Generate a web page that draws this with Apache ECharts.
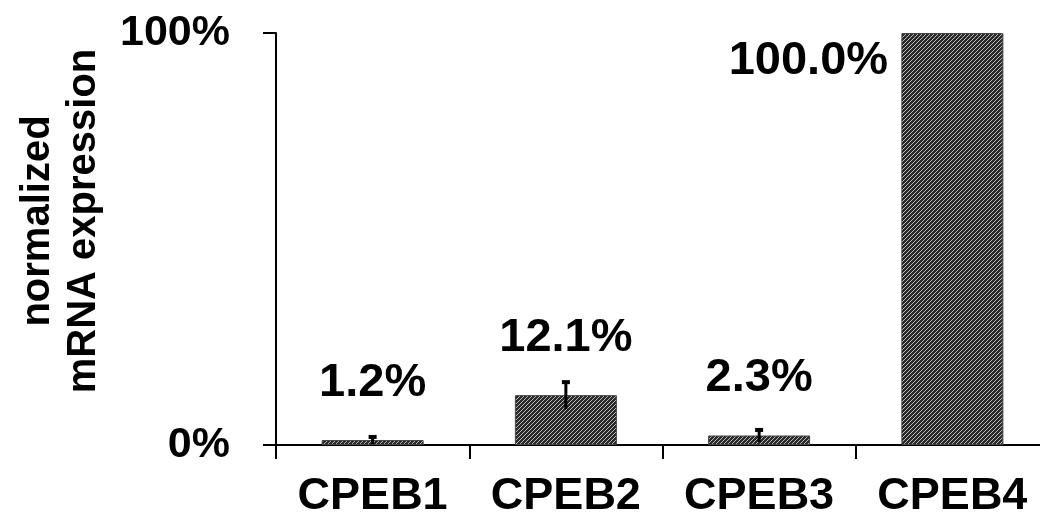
<!DOCTYPE html>
<html>
<head>
<meta charset="utf-8">
<script src="https://cdn.jsdelivr.net/npm/echarts@6/dist/echarts.min.js"></script>
<style>html,body{margin:0;padding:0;background:#fff}#c{width:1040px;height:522px}</style>
</head>
<body>
<div id="c"></div>
<script>
const categories = ["CPEB1", "CPEB2", "CPEB3", "CPEB4"];
const values = [1.2, 12.1, 2.3, 100.0];
const errors = [1.0, 3.4, 1.6, 0];
const yTicks = [0, 100];
const yTitle = "normalized\nmRNA expression";

const FONT = '"Liberation Sans", Arial, sans-serif';

// hatch pattern
const pc = document.createElement('canvas');
pc.width = 4; pc.height = 4;
const g = pc.getContext('2d');
g.fillStyle = '#2a2a2a';
g.fillRect(0, 0, 4, 4);
g.strokeStyle = '#b8b8b8';
g.lineWidth = 1;
g.beginPath();
g.moveTo(0, 4); g.lineTo(4, 0);
g.moveTo(-1, 1); g.lineTo(1, -1);
g.moveTo(3, 5); g.lineTo(5, 3);
g.stroke();

const chart = echarts.init(document.getElementById('c'), null, {renderer: 'canvas'});

const barData = values.map((v, i) => {
  const d = {value: v};
  if (i === 3) {
    d.label = {position: 'insideTop', distance: 5, offset: [-144, 0]};
  }
  return d;
});

chart.setOption({
  animation: false,
  backgroundColor: '#fff',
  grid: {left: 276, top: 33, width: 773, height: 412, outerBoundsMode: 'none', containLabel: false},
  xAxis: {
    type: 'category',
    data: categories,
    boundaryGap: true,
    axisLine: {show: true, lineStyle: {color: '#000', width: 2}},
    axisTick: {show: true, interval: 0, length: 14, lineStyle: {color: '#000', width: 2}},
    axisLabel: {interval: 0, hideOverlap: false, color: '#000', fontFamily: FONT, fontWeight: 'bold', fontSize: 45, margin: 29}
  },
  yAxis: {
    type: 'value',
    min: yTicks[0], max: yTicks[1], interval: 100,
    axisLine: {show: true, lineStyle: {color: '#000', width: 2}},
    axisTick: {show: true, length: 13, lineStyle: {color: '#000', width: 2}},
    splitLine: {show: false},
    axisLabel: {color: '#000', fontFamily: FONT, fontWeight: 'bold', fontSize: 43, margin: 46, formatter: '{value}%'}
  },
  graphic: [{
    type: 'text',
    x: 61, y: 221,
    rotation: Math.PI / 2,
    style: {
      text: yTitle,
      font: 'bold 40px ' + FONT,
      fill: '#000',
      align: 'center',
      verticalAlign: 'middle',
      lineHeight: 46
    }
  }],
  series: [{
    type: 'bar',
    data: barData,
    barWidth: 102,
    itemStyle: {color: {image: pc, repeat: 'repeat'}, borderColor: '#444', borderWidth: 1},
    label: {
      show: true,
      position: 'top',
      distance: 34,
      color: '#000',
      fontFamily: FONT,
      fontWeight: 'bold',
      fontSize: 47,
      formatter: p => p.value.toFixed(1) + '%'
    },
    z: 2
  }, {
    type: 'custom',
    data: values.map((v, i) => [i, v - errors[i], v + errors[i]]),
    z: 5,
    renderItem: (params, api) => {
      if (api.value(2) === api.value(1)) return null;
      const lo = api.coord([api.value(0), api.value(1)]);
      const hi = api.coord([api.value(0), api.value(2)]);
      const x = lo[0];
      return {
        type: 'group',
        children: [
          {type: 'line', shape: {x1: x, y1: lo[1], x2: x, y2: hi[1]}, style: {stroke: '#000', lineWidth: 3}},
          {type: 'rect', shape: {x: x - 4, y: hi[1] - 1, width: 8, height: 4}, style: {fill: '#000'}}
        ]
      };
    }
  }]
});
</script>
</body>
</html>
